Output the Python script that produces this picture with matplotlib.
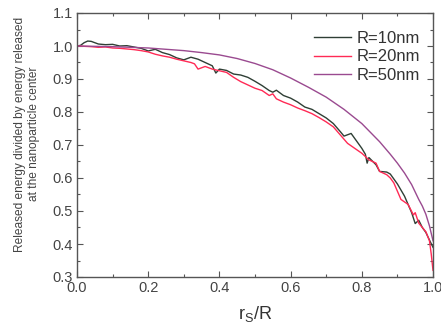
import matplotlib
matplotlib.use("Agg")
import matplotlib.pyplot as plt
from matplotlib.ticker import MultipleLocator

plt.rcParams['font.family'] = ['Liberation Sans', 'DejaVu Sans']
plt.rcParams['mathtext.fontset'] = 'custom'
plt.rcParams['mathtext.rm'] = 'Liberation Sans'

# R = 10 nm
x10 = [0.00, 0.01, 0.02, 0.03, 0.04, 0.05, 0.06, 0.08, 0.10, 0.12, 0.14, 0.16, 0.18, 0.20,
       0.22, 0.24, 0.26, 0.28, 0.30, 0.32, 0.34, 0.36, 0.38, 0.39, 0.40, 0.42, 0.44, 0.46,
       0.48, 0.50, 0.52, 0.54, 0.55, 0.56, 0.58, 0.60, 0.62, 0.64, 0.66, 0.68, 0.70, 0.72,
       0.74, 0.75, 0.77, 0.79, 0.80, 0.81, 0.815, 0.82, 0.84, 0.85, 0.87, 0.88, 0.90, 0.92,
       0.93, 0.94, 0.95, 0.96, 0.97, 0.98, 0.99, 1.00]
y10 = [1.000, 1.002, 1.010, 1.015, 1.014, 1.010, 1.006, 1.004, 1.005, 1.000, 1.001, 0.997, 0.993, 0.985,
       0.990, 0.980, 0.974, 0.964, 0.958, 0.966, 0.960, 0.950, 0.940, 0.918, 0.930, 0.926, 0.915, 0.912,
       0.905, 0.893, 0.880, 0.865, 0.860, 0.866, 0.850, 0.842, 0.830, 0.815, 0.808, 0.795, 0.782, 0.765,
       0.740, 0.727, 0.735, 0.705, 0.690, 0.672, 0.645, 0.662, 0.640, 0.620, 0.618, 0.612, 0.582, 0.545,
       0.520, 0.495, 0.462, 0.472, 0.450, 0.435, 0.412, 0.390]

# R = 20 nm
x20 = [0.00, 0.02, 0.04, 0.06, 0.08, 0.10, 0.12, 0.14, 0.16, 0.18, 0.20, 0.22, 0.24, 0.26,
       0.28, 0.30, 0.32, 0.33, 0.34, 0.36, 0.38, 0.40, 0.42, 0.44, 0.46, 0.48, 0.50, 0.52,
       0.54, 0.55, 0.56, 0.58, 0.60, 0.62, 0.64, 0.66, 0.68, 0.70, 0.72, 0.74, 0.76, 0.78,
       0.80, 0.82, 0.84, 0.85, 0.87, 0.88, 0.89, 0.91, 0.93, 0.945, 0.95, 0.96, 0.98, 0.99,
       0.995, 1.00]
y20 = [1.000, 0.999, 0.998, 0.996, 0.997, 0.994, 0.993, 0.991, 0.989, 0.986, 0.982, 0.975, 0.970, 0.966,
       0.960, 0.955, 0.950, 0.946, 0.930, 0.938, 0.930, 0.925, 0.920, 0.905, 0.892, 0.882, 0.872, 0.865,
       0.850, 0.855, 0.840, 0.830, 0.822, 0.812, 0.804, 0.795, 0.783, 0.770, 0.755, 0.730, 0.705, 0.690,
       0.675, 0.655, 0.645, 0.620, 0.610, 0.600, 0.585, 0.535, 0.520, 0.488, 0.495, 0.463, 0.437, 0.410,
       0.370, 0.320]

# R = 50 nm
x50 = [0.00, 0.05, 0.10, 0.15, 0.20, 0.25, 0.30, 0.35, 0.40, 0.45, 0.50, 0.55, 0.60, 0.65,
       0.70, 0.75, 0.80, 0.85, 0.88, 0.90, 0.92, 0.94, 0.96, 0.97, 0.98, 0.99, 1.00]
y50 = [1.000, 0.999, 0.998, 0.996, 0.994, 0.990, 0.986, 0.980, 0.973, 0.962, 0.947, 0.928, 0.903, 0.875,
       0.845, 0.808, 0.765, 0.710, 0.672, 0.645, 0.615, 0.580, 0.535, 0.515, 0.490, 0.455, 0.410]

labels = ['R=10nm', 'R=20nm', 'R=50nm']
colors = ['#2f3f35', '#ff2a55', '#9a4a90']

fig = plt.figure(figsize=(4.41, 3.29), dpi=100)
ax = fig.add_axes([77/441, 1-277/329, (433-77)/441, (277-13)/329])

ax.plot(x10, y10, color=colors[0], lw=1.0, label=labels[0])
ax.plot(x20, y20, color=colors[1], lw=1.0, label=labels[1])
ax.plot(x50, y50, color=colors[2], lw=1.0, label=labels[2])

ax.set_xlim(0, 1.0)
ax.set_ylim(0.3, 1.1)
ax.xaxis.set_major_locator(MultipleLocator(0.2))
ax.xaxis.set_minor_locator(MultipleLocator(0.1))
ax.yaxis.set_major_locator(MultipleLocator(0.1))
ax.yaxis.set_minor_locator(MultipleLocator(0.05))
ax.tick_params(which='both', direction='in', top=True, right=True, colors='#555555',
               labelcolor='#444444', labelsize=10.5)
ax.tick_params(which='major', length=4, width=0.8)
ax.tick_params(which='minor', length=2.5, width=0.8)
ax.tick_params(axis='x', pad=3)
ax.tick_params(axis='y', pad=3)
ax.xaxis.set_major_formatter(matplotlib.ticker.FormatStrFormatter('%.1f'))
ax.yaxis.set_major_formatter(matplotlib.ticker.FormatStrFormatter('%.1f'))
for s in ax.spines.values():
    s.set_color('#555555')
    s.set_linewidth(1.0)

ax.set_xlabel(r'$\mathregular{r_S/R}$', fontsize=13, color='#333333', labelpad=6)
fig.text(27/441, 1-134/329,
         'Released energy divided by energy released\nat the nanoparticle center',
         rotation=90, ha='center', va='center', multialignment='center',
         fontsize=8.6, color='#444444', linespacing=1.3)

leg = ax.legend(loc='upper right', frameon=False, fontsize=12, handlelength=2.2,
                handletextpad=0.3, labelspacing=0.22, borderaxespad=0.4,
                bbox_to_anchor=(1.0, 0.983))
for t in leg.get_texts():
    t.set_color('#333333')

fig.savefig('out.png', dpi=100)
